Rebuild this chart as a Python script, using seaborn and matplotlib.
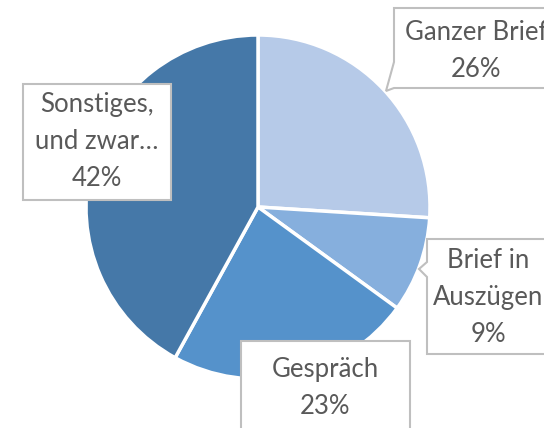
import matplotlib
matplotlib.use("Agg")
import matplotlib.pyplot as plt
from matplotlib.patches import Polygon
import seaborn as sns

categories = ["Ganzer Brief", "Brief in Auszügen", "Gespräch", "Sonstiges, und zwar…"]
values = [26, 9, 23, 42]
label_texts = ["Ganzer Brief\n26%", "Brief in\nAuszügen\n9%", "Gespräch\n23%", "Sonstiges,\nund zwar…\n42%"]
colors = ["#B6CAE8", "#86AFDD", "#5592CB", "#4578A8"]

sns.set_theme(style="white")
plt.rcParams["font.family"] = ["Lato", "DejaVu Sans"]

W, H = 544, 428
fig = plt.figure(figsize=(W / 100, H / 100), dpi=100)
ax = fig.add_axes([0, 0, 1, 1])

def py(y):
    return H - y

ax.pie(values, colors=sns.color_palette(colors), startangle=90, counterclock=False,
       center=(258, py(207)), radius=172, frame=True,
       wedgeprops=dict(edgecolor="white", linewidth=2.5))
ax.set_xlim(0, W)
ax.set_ylim(0, H)
ax.set_aspect("auto")
ax.axis("off")

edge = "#BFBFBF"
boxes = [
    [(394, 8), (560, 8), (560, 88), (394, 88), (386, 91), (394, 62)],
    [(427, 239), (560, 239), (560, 354), (427, 354), (427, 277), (419, 269), (427, 262)],
    [(241, 341), (410, 341), (410, 440), (241, 440)],
    [(23, 84), (171, 84), (171, 200), (23, 200)],
]
for b in boxes:
    poly = Polygon([(x, py(y)) for x, y in b], closed=True, facecolor="white",
                   edgecolor=edge, linewidth=1.5, zorder=5)
    ax.add_patch(poly)

centers = [(476, 51), (488, 297), (325, 388), (97, 141)]
for txt, (cx, cy) in zip(label_texts, centers):
    ax.text(cx, py(cy), txt, ha="center", va="center", fontsize=18.5,
            color="#595959", linespacing=1.6, zorder=6)

fig.savefig("out.png", dpi=100)
